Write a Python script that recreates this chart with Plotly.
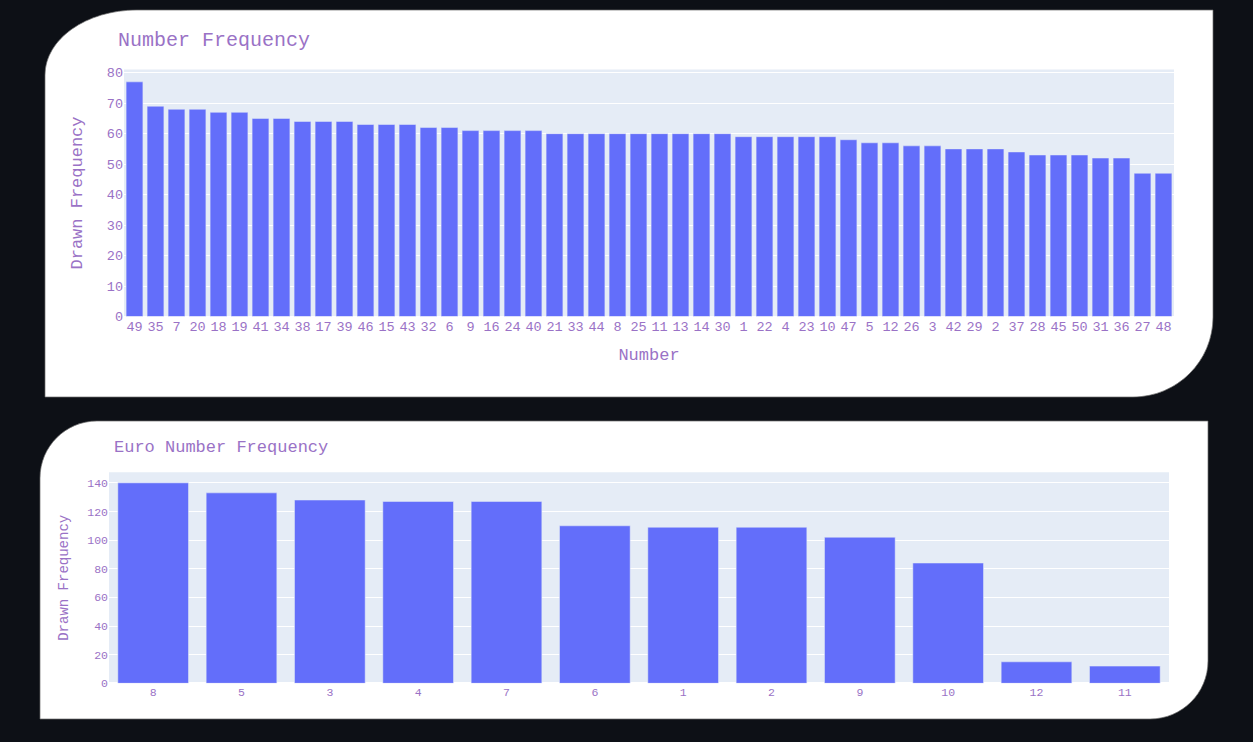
import plotly.graph_objects as go

# ---------------- data ----------------
numbers = ["49", "35", "7", "20", "18", "19", "41", "34", "38", "17",
           "39", "46", "15", "43", "32", "6", "9", "16", "24", "40",
           "21", "33", "44", "8", "25", "11", "13", "14", "30", "1",
           "22", "4", "23", "10", "47", "5", "12", "26", "3", "42",
           "29", "2", "37", "28", "45", "50", "31", "36", "27", "48"]
number_freq = [77, 69, 68, 68, 67, 67, 65, 65, 64, 64,
               64, 63, 63, 63, 62, 62, 61, 61, 61, 61,
               60, 60, 60, 60, 60, 60, 60, 60, 60, 59,
               59, 59, 59, 59, 58, 57, 57, 56, 56, 55,
               55, 55, 54, 53, 53, 53, 52, 52, 47, 47]

euro_numbers = ["8", "5", "3", "4", "7", "6", "1", "2", "9", "10", "12", "11"]
euro_freq = [140, 133, 128, 127, 127, 110, 109, 109, 102, 84, 15, 12]

title_top = "Number Frequency"
title_bottom = "Euro Number Frequency"
x_title_top = "Number"
y_title = "Drawn Frequency"

# ---------------- layout helpers ----------------
W, H = 1253, 742
FONT = "Courier New, Liberation Mono, monospace"
TXT = "#9a72c6"
BG = "#0d1016"
BAR = "#636efa"
PLOTBG = "#E5ECF6"


def px(x):
    return x / W


def py(y):
    return 1 - y / H


def card_path(x0, y0, x1, y1, tl, br):
    """Card with rounded top-left (tl=(rx,ry)) and bottom-right (br=(rx,ry)) corners; pixel coords."""
    k = 0.5523
    trx, try_ = tl
    brx, bry = br
    pts = []
    pts.append(f"M {px(x0)},{py(y0 + try_)}")
    pts.append(
        f"C {px(x0)},{py(y0 + try_ - k * try_)} {px(x0 + trx - k * trx)},{py(y0)} {px(x0 + trx)},{py(y0)}")
    pts.append(f"L {px(x1)},{py(y0)}")
    pts.append(f"L {px(x1)},{py(y1 - bry)}")
    pts.append(
        f"C {px(x1)},{py(y1 - bry + k * bry)} {px(x1 - brx + k * brx)},{py(y1)} {px(x1 - brx)},{py(y1)}")
    pts.append(f"L {px(x0)},{py(y1)}")
    pts.append("Z")
    return " ".join(pts)


top_x = [124, 1174]
top_y = [316.5, 69.5]
bot_x = [109, 1169]
bot_y = [683.3, 472.3]

fig = go.Figure()
fig.add_trace(go.Bar(x=numbers, y=number_freq, marker_color=BAR,
                     xaxis="x", yaxis="y", showlegend=False))
fig.add_trace(go.Bar(x=euro_numbers, y=euro_freq, marker_color=BAR,
                     xaxis="x2", yaxis="y2", showlegend=False))

fig.update_layout(
    template="plotly",
    width=W, height=H,
    margin=dict(l=0, r=0, t=0, b=0),
    paper_bgcolor=BG,
    plot_bgcolor=PLOTBG,
    font=dict(family=FONT, color=TXT, size=12),
    showlegend=False,
    xaxis=dict(domain=[px(top_x[0]), px(top_x[1])], anchor="y", type="category",
               tickfont=dict(size=13.5, color=TXT, family=FONT),
               title=dict(text=x_title_top, font=dict(size=17, color=TXT, family=FONT), standoff=14),
               automargin=False),
    yaxis=dict(domain=[py(top_y[0]), py(top_y[1])], anchor="x", dtick=10,
               tickfont=dict(size=13.5, color=TXT, family=FONT),
               title=dict(text=y_title, font=dict(size=17, color=TXT, family=FONT), standoff=19),
               automargin=False),
    xaxis2=dict(domain=[px(bot_x[0]), px(bot_x[1])], anchor="y2", type="category",
                tickfont=dict(size=11.5, color=TXT, family=FONT),
                automargin=False),
    yaxis2=dict(domain=[py(bot_y[0]), py(bot_y[1])], anchor="x2", dtick=20,
                tickfont=dict(size=11.5, color=TXT, family=FONT),
                title=dict(text=y_title, font=dict(size=14, color=TXT, family=FONT), standoff=15),
                automargin=False),
    shapes=[
        dict(type="path", xref="paper", yref="paper", layer="below",
             path=card_path(45, 10, 1213, 397, (92, 65), (80, 80)),
             fillcolor="white", line=dict(color="rgba(110,110,110,0.7)", width=1)),
        dict(type="path", xref="paper", yref="paper", layer="below",
             path=card_path(40, 421, 1208, 719, (57, 57), (58, 58)),
             fillcolor="white", line=dict(color="rgba(110,110,110,0.7)", width=1)),
        dict(type="rect", xref="x domain", yref="y domain", layer="below",
             x0=0, x1=1, y0=0, y1=1, fillcolor=PLOTBG, line=dict(width=0)),
        dict(type="rect", xref="x2 domain", yref="y2 domain", layer="below",
             x0=0, x1=1, y0=0, y1=1, fillcolor=PLOTBG, line=dict(width=0)),
    ],
    annotations=[
        dict(text=title_top, xref="paper", yref="paper", x=px(116), y=py(40),
             xanchor="left", yanchor="middle", showarrow=False,
             font=dict(size=20, color=TXT, family=FONT)),
        dict(text=title_bottom, xref="paper", yref="paper", x=px(112), y=py(447),
             xanchor="left", yanchor="middle", showarrow=False,
             font=dict(size=17, color=TXT, family=FONT)),
    ],
)

fig.write_html("out.html")
